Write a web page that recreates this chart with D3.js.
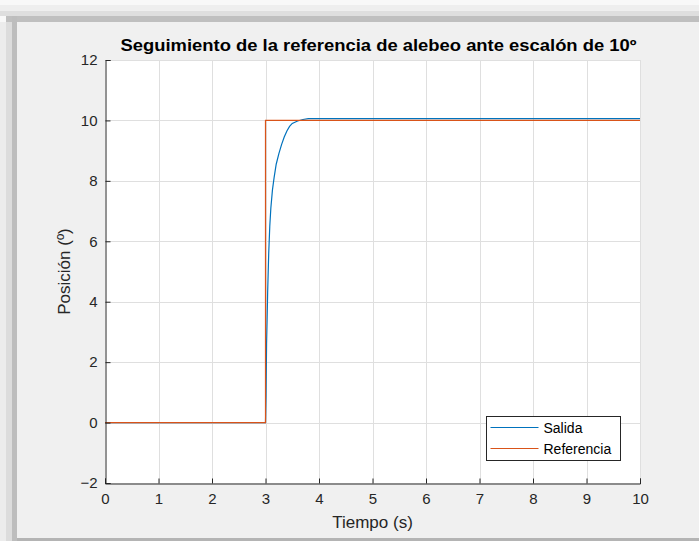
<!DOCTYPE html>
<html>
<head>
<meta charset="utf-8">
<script src="https://cdn.jsdelivr.net/npm/d3@7"></script>
<style>
  body { margin: 0; background: #f8f8f8; }
  svg { display: block; font-family: Arial, "Liberation Sans", Helvetica, sans-serif; }
</style>
</head>
<body>
<div id="chart"></div>
<script>
// data
const refTime = [0, 3, 3, 10];
const refValue = [0, 0, 10, 10];

const outTime = [0, 3, 3.01, 3.02, 3.03, 3.04, 3.06, 3.08, 3.10, 3.13, 3.16, 3.20, 3.25, 3.30,
  3.35, 3.40, 3.45, 3.50, 3.60, 3.70, 3.80, 4, 5, 6, 7, 8, 9, 10];
const outValue = [0, 0, 0.9, 2.6, 3.4, 4.3, 5.6, 6.5, 7.1, 7.7, 8.1, 8.55, 8.9, 9.2,
  9.45, 9.65, 9.8, 9.9, 9.98, 10.03, 10.06, 10.06, 10.06, 10.06, 10.06, 10.06, 10.06, 10.06];

const xTicks = [0, 1, 2, 3, 4, 5, 6, 7, 8, 9, 10];
const yTicks = [-2, 0, 2, 4, 6, 8, 10, 12];
const seriesNames = ["Salida", "Referencia"];
const seriesColors = ["#0072bd", "#d95319"];

const width = 699, height = 541;
const margin = { top: 60, right: 59, bottom: 58, left: 105 };

const svg = d3.select("#chart").append("svg")
  .attr("width", width)
  .attr("height", height);

// window shadow round the figure
const shadow = [
  { x: 0, y: 5, w: width, h: 6, c: "#eeeeee" },
  { x: 0, y: 11, w: width, h: 5, c: "#dedede" },
  { x: 6, y: 16, w: width, h: 6, c: "#bfbfbf" },
  { x: 0, y: 22, w: 6, h: height, c: "#ececec" },
  { x: 6, y: 22, w: 6, h: height, c: "#dcdcdc" },
  { x: 12, y: 16, w: 5, h: height, c: "#bdbdbd" }
];
svg.selectAll("rect.shadow").data(shadow).join("rect")
  .attr("class", "shadow")
  .attr("x", d => d.x).attr("y", d => d.y)
  .attr("width", d => d.w).attr("height", d => d.h)
  .attr("fill", d => d.c);

svg.append("rect")
  .attr("x", 17).attr("y", 22)
  .attr("width", width - 17).attr("height", 516)
  .attr("fill", "#f0f0f0");
svg.append("rect")
  .attr("x", 17).attr("y", 538)
  .attr("width", width - 17).attr("height", 3)
  .attr("fill", "#b4b4b4");

const x = d3.scaleLinear().domain([0, 10]).range([margin.left, width - margin.right]);
const y = d3.scaleLinear().domain([-2, 12]).range([height - margin.bottom, margin.top]);

// plot area
svg.append("rect")
  .attr("x", x(0)).attr("y", y(12))
  .attr("width", x(10) - x(0)).attr("height", y(-2) - y(12))
  .attr("fill", "#ffffff");

// grid
const grid = svg.append("g").attr("stroke", "#dfdfdf").attr("stroke-width", 1);
grid.selectAll("line.gx").data(xTicks.slice(1)).join("line")
  .attr("x1", d => Math.round(x(d)) + 0.5).attr("x2", d => Math.round(x(d)) + 0.5)
  .attr("y1", y(12)).attr("y2", y(-2));
grid.selectAll("line.gy").data(yTicks.slice(1)).join("line")
  .attr("y1", d => Math.round(y(d)) + 0.5).attr("y2", d => Math.round(y(d)) + 0.5)
  .attr("x1", x(0)).attr("x2", x(10));

// series (reference drawn on top, as in the figure)
const line = d3.line().x(d => x(d[0])).y(d => y(d[1]));
const outData = outTime.map((t, i) => [t, outValue[i]]);
const refData = refTime.map((t, i) => [t, refValue[i]]);

svg.append("path").datum(outData)
  .attr("d", line).attr("fill", "none")
  .attr("stroke", seriesColors[0]).attr("stroke-width", 1.2);
svg.append("path").datum(refData)
  .attr("d", line).attr("fill", "none")
  .attr("stroke", seriesColors[1]).attr("stroke-width", 1.2);

// axes
const xAxis = d3.axisBottom(x).tickValues(xTicks).tickSizeInner(-5).tickSizeOuter(-5).tickPadding(10);
const yAxis = d3.axisLeft(y).tickValues(yTicks).tickSizeInner(-5).tickSizeOuter(-5).tickPadding(8);

const gx = svg.append("g")
  .attr("transform", `translate(0,${Math.round(y(-2)) + 0.5})`)
  .call(xAxis);
const gy = svg.append("g")
  .attr("transform", `translate(${Math.round(x(0)) + 0.5},0)`)
  .call(yAxis);

[gx, gy].forEach(g => {
  g.selectAll("path, line").attr("stroke", "#262626");
  g.selectAll("text").attr("fill", "#262626").attr("font-size", 15);
});

// title and labels
svg.append("text")
  .attr("x", (x(0) + x(10)) / 2 + 6).attr("y", 51)
  .attr("text-anchor", "middle")
  .attr("font-size", 16.5).attr("font-weight", "bold")
  .attr("fill", "#000")
  .attr("textLength", 516).attr("lengthAdjust", "spacingAndGlyphs")
  .text("Seguimiento de la referencia de alebeo ante escalón de 10º");

svg.append("text")
  .attr("x", (x(0) + x(10)) / 2).attr("y", 528)
  .attr("text-anchor", "middle")
  .attr("font-size", 17).attr("fill", "#262626")
  .text("Tiempo (s)");

svg.append("text")
  .attr("transform", `translate(70,${(y(-2) + y(12)) / 2}) rotate(-90)`)
  .attr("text-anchor", "middle")
  .attr("font-size", 17).attr("fill", "#262626")
  .text("Posición (º)");

// legend
const legend = svg.append("g").attr("transform", "translate(486.5,416.5)");
legend.append("rect")
  .attr("width", 134).attr("height", 44)
  .attr("fill", "#fff").attr("stroke", "#262626");
seriesNames.forEach((name, i) => {
  const ly = 11 + i * 21;
  legend.append("line")
    .attr("x1", 4).attr("x2", 52).attr("y1", ly).attr("y2", ly)
    .attr("stroke", seriesColors[i]);
  legend.append("text")
    .attr("x", 57).attr("y", ly + 5)
    .attr("font-size", 14).attr("fill", "#000")
    .text(name);
});
</script>
</body>
</html>
